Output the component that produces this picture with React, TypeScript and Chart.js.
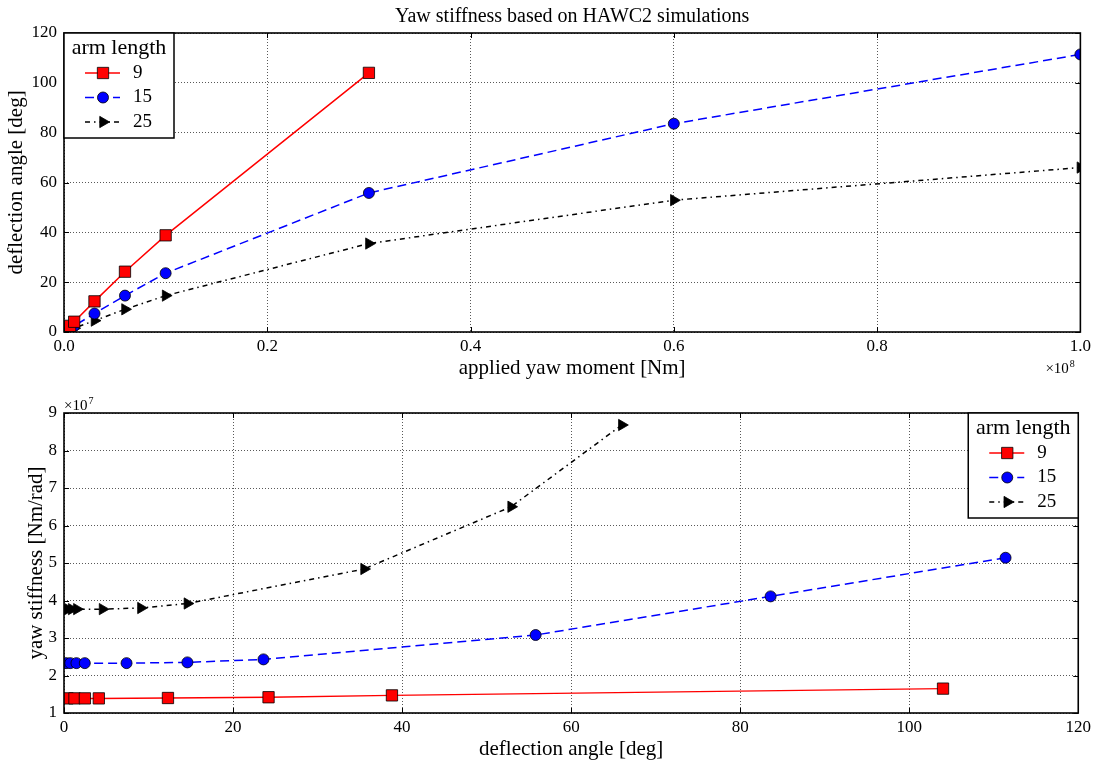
import React, { useEffect, useRef } from 'react';
import { Chart, registerables } from 'chart.js';

Chart.register(...registerables);

// ---------- data ----------
const armLengths = ['9', '15', '25'];

// applied yaw moment [Nm]
const moments9 = [1e5, 3e5, 6e5, 1e6, 3e6, 6e6, 1e7, 3e7];
const moments15 = [1e5, 3e5, 6e5, 1e6, 3e6, 6e6, 1e7, 3e7, 6e7, 1e8];
const moments25 = [1e5, 3e5, 6e5, 1e6, 3e6, 6e6, 1e7, 3e7, 6e7, 1e8];

// deflection angle [deg]
const deflection9 = [0.41, 1.24, 2.47, 4.12, 12.3, 24.2, 38.8, 104.0];
const deflection15 = [0.25, 0.74, 1.47, 2.46, 7.4, 14.6, 23.6, 55.8, 83.6, 111.4];
const deflection25 = [0.15, 0.46, 0.91, 1.52, 4.56, 9.1, 14.6, 35.5, 52.9, 66.0];

// yaw stiffness [Nm/rad]
const stiffness9 = [1.39e7, 1.39e7, 1.39e7, 1.39e7, 1.40e7, 1.42e7, 1.47e7, 1.65e7];
const stiffness15 = [2.33e7, 2.33e7, 2.33e7, 2.33e7, 2.33e7, 2.35e7, 2.43e7, 3.08e7, 4.11e7, 5.14e7];
const stiffness25 = [3.77e7, 3.77e7, 3.77e7, 3.77e7, 3.77e7, 3.80e7, 3.92e7, 4.84e7, 6.50e7, 8.68e7];

const titleText = 'Yaw stiffness based on HAWC2 simulations';
const legendTitle = 'arm length';
const topXLabel = 'applied yaw moment [Nm]';
const topYLabel = 'deflection angle [deg]';
const bottomXLabel = 'deflection angle [deg]';
const bottomYLabel = 'yaw stiffness [Nm/rad]';

// ---------- styles ----------
const FONT = '"Liberation Serif", "Times New Roman", serif';
const styles = [
  { color: '#ff0000', dash: [] as number[], pointStyle: 'rect', radius: 8, rotation: 0 },
  { color: '#0000ff', dash: [9, 5], pointStyle: 'circle', radius: 5.5, rotation: 0 },
  { color: '#000000', dash: [5, 4, 1.5, 4], pointStyle: 'triangle', radius: 6.5, rotation: 90 },
];

function makeDatasets(xs: number[][], ys: number[][]) {
  return armLengths.map((label, i) => ({
    label,
    data: xs[i].map((x, j) => ({ x, y: ys[i][j] })),
    borderColor: styles[i].color,
    backgroundColor: styles[i].color,
    borderWidth: 1.5,
    borderDash: styles[i].dash,
    pointStyle: styles[i].pointStyle,
    pointRadius: styles[i].radius,
    pointRotation: styles[i].rotation,
    pointBackgroundColor: styles[i].color,
    pointBorderColor: '#000',
    pointBorderWidth: 0.8,
    tension: 0,
    fill: false,
  }));
}

function drawMarker(ctx: CanvasRenderingContext2D, style: string, x: number, y: number, r: number, rotation: number) {
  const rad = (rotation * Math.PI) / 180;
  ctx.beginPath();
  if (style === 'rect') {
    const s = Math.SQRT1_2 * r;
    ctx.rect(x - s, y - s, 2 * s, 2 * s);
  } else if (style === 'circle') {
    ctx.arc(x, y, r, 0, Math.PI * 2);
  } else {
    let a = rad;
    ctx.moveTo(x + Math.sin(a) * r, y - Math.cos(a) * r);
    a += (2 * Math.PI) / 3;
    ctx.lineTo(x + Math.sin(a) * r, y - Math.cos(a) * r);
    a += (2 * Math.PI) / 3;
    ctx.lineTo(x + Math.sin(a) * r, y - Math.cos(a) * r);
    ctx.closePath();
  }
  ctx.fill();
  ctx.stroke();
}

const framePlugin = {
  id: 'mplFrame',
  afterDatasetsDraw(chart: any) {
    const { ctx, chartArea: a, scales } = chart;
    ctx.save();
    ctx.strokeStyle = '#000';
    ctx.lineWidth = 1;
    ctx.setLineDash([]);
    const xs = scales.x;
    const ys = scales.y;
    ctx.beginPath();
    xs.ticks.forEach((t: any) => {
      const px = Math.round(xs.getPixelForValue(t.value)) + 0.5;
      ctx.moveTo(px, a.bottom);
      ctx.lineTo(px, a.bottom - 5);
      ctx.moveTo(px, a.top);
      ctx.lineTo(px, a.top + 5);
    });
    ys.ticks.forEach((t: any) => {
      const py = Math.round(ys.getPixelForValue(t.value)) + 0.5;
      ctx.moveTo(a.left, py);
      ctx.lineTo(a.left + 5, py);
      ctx.moveTo(a.right, py);
      ctx.lineTo(a.right - 5, py);
    });
    ctx.stroke();
    ctx.lineWidth = 1.6;
    ctx.strokeRect(a.left, a.top, a.right - a.left, a.bottom - a.top);
    ctx.restore();
  },
};

const legendPlugin = {
  id: 'mplLegend',
  afterDraw(chart: any, _args: any, opts: any) {
    const { ctx, chartArea: a } = chart;
    const w = 110;
    const h = 105;
    const left = opts.corner === 'tl' ? a.left : a.right - w;
    const top = a.top;
    ctx.save();
    ctx.fillStyle = '#fff';
    ctx.fillRect(left, top, w, h);
    ctx.lineWidth = 1.5;
    ctx.strokeStyle = '#000';
    ctx.setLineDash([]);
    ctx.strokeRect(left, top, w, h);
    ctx.fillStyle = '#000';
    ctx.font = `22px ${FONT}`;
    ctx.textAlign = 'center';
    ctx.textBaseline = 'middle';
    ctx.fillText(legendTitle, left + w / 2, top + 15);
    chart.data.datasets.forEach((ds: any, i: number) => {
      const y = top + 40 + i * 24.5;
      ctx.strokeStyle = ds.borderColor;
      ctx.lineWidth = ds.borderWidth;
      ctx.setLineDash(ds.borderDash || []);
      ctx.beginPath();
      ctx.moveTo(left + 21, y);
      ctx.lineTo(left + 56, y);
      ctx.stroke();
      ctx.setLineDash([]);
      ctx.fillStyle = ds.pointBackgroundColor;
      ctx.strokeStyle = '#000';
      ctx.lineWidth = ds.pointBorderWidth;
      drawMarker(ctx, ds.pointStyle, left + 39, y, ds.pointRadius, ds.pointRotation);
      ctx.fillStyle = '#000';
      ctx.font = `19px ${FONT}`;
      ctx.textAlign = 'left';
      ctx.fillText(ds.label, left + 69, y);
    });
    ctx.restore();
  },
};

const textPlugin = {
  id: 'mplText',
  afterDraw(chart: any, _args: any, opts: any) {
    const { ctx, chartArea: a } = chart;
    ctx.save();
    ctx.fillStyle = '#000';
    if (opts.title) {
      ctx.font = `20px ${FONT}`;
      ctx.textAlign = 'center';
      ctx.textBaseline = 'middle';
      ctx.fillText(opts.title, (a.left + a.right) / 2, a.top - 16);
    }
    if (opts.exponent) {
      const { exp, where } = opts.exponent;
      let x = 0;
      let y = 0;
      if (where === 'bottomright') {
        x = a.right - 35;
        y = a.bottom + 36;
      } else {
        x = a.left;
        y = a.top - 8;
      }
      ctx.textAlign = 'left';
      ctx.textBaseline = 'alphabetic';
      ctx.font = `15px ${FONT}`;
      const base = '\u00d710';
      ctx.fillText(base, x, y + 5);
      const bw = ctx.measureText(base).width;
      ctx.font = `10px ${FONT}`;
      ctx.fillText(exp, x + bw + 1, y - 1);
    }
    ctx.restore();
  },
};

function axisCommon(titleText: string, titlePadding: any) {
  return {
    type: 'linear' as const,
    grid: {
      color: 'rgba(0,0,0,0.65)',
      lineWidth: 1,
      drawTicks: false,
    },
    border: { display: false, dash: [1, 2] },
    title: {
      display: true,
      text: titleText,
      color: '#000',
      font: { family: FONT, size: 21 },
      padding: titlePadding,
    },
  };
}

const tickFont = { family: FONT, size: 17 };

function ChartCanvas({ config, height }: { config: any; height: number }) {
  const ref = useRef<HTMLCanvasElement | null>(null);
  useEffect(() => {
    if (!ref.current) return;
    const chart = new Chart(ref.current, config);
    return () => chart.destroy();
  }, [config]);
  return <canvas ref={ref} width={1095} height={height} style={{ display: 'block', width: 1095, height }} />;
}

const topConfig = {
  type: 'line',
  data: { datasets: makeDatasets([moments9, moments15, moments25], [deflection9, deflection15, deflection25]) },
  options: {
    responsive: false,
    animation: false,
    devicePixelRatio: 1,
    layout: { padding: { left: 0, top: 33, right: 14, bottom: 0 } },
    plugins: {
      legend: { display: false },
      tooltip: { enabled: false },
      mplLegend: { corner: 'tl' },
      mplText: { title: titleText, exponent: { exp: '8', where: 'bottomright' } },
    },
    scales: {
      x: {
        ...axisCommon(topXLabel, { top: 0, bottom: 1 }),
        min: 0,
        max: 1e8,
        afterFit: (s: any) => { s.height = 50; },
        ticks: {
          stepSize: 2e7,
          padding: 4,
          color: '#000',
          font: tickFont,
          maxRotation: 0,
          callback: (v: any) => (Number(v) / 1e8).toFixed(1),
        },
      },
      y: {
        ...axisCommon(topYLabel, { top: 4, bottom: 0 }),
        min: 0,
        max: 120,
        afterFit: (s: any) => { s.width = 64; },
        ticks: { stepSize: 20, padding: 7, color: '#000', font: tickFont },
      },
    },
  },
  plugins: [framePlugin, legendPlugin, textPlugin],
};

const bottomConfig = {
  type: 'line',
  data: { datasets: makeDatasets([deflection9, deflection15, deflection25], [stiffness9, stiffness15, stiffness25]) },
  options: {
    responsive: false,
    animation: false,
    devicePixelRatio: 1,
    layout: { padding: { left: 0, top: 31, right: 14, bottom: 0 } },
    plugins: {
      legend: { display: false },
      tooltip: { enabled: false },
      mplLegend: { corner: 'tr' },
      mplText: { exponent: { exp: '7', where: 'topleft' } },
    },
    scales: {
      x: {
        ...axisCommon(bottomXLabel, { top: 0, bottom: 3 }),
        min: 0,
        max: 120,
        afterFit: (s: any) => { s.height = 52; },
        ticks: { stepSize: 20, padding: 4, color: '#000', font: tickFont, maxRotation: 0 },
      },
      y: {
        ...axisCommon(bottomYLabel, { top: 24, bottom: 0 }),
        min: 1e7,
        max: 9e7,
        afterFit: (s: any) => { s.width = 64; },
        ticks: {
          stepSize: 1e7,
          padding: 7,
          color: '#000',
          font: tickFont,
          callback: (v: any) => String(Math.round(Number(v) / 1e7)),
        },
      },
    },
  },
  plugins: [framePlugin, legendPlugin, textPlugin],
};

export default function App() {
  return (
    <div style={{ position: 'absolute', left: 0, top: 0, width: 1095, height: 765, background: '#fff' }}>
      <div style={{ position: 'absolute', left: 0, top: 0 }}>
        <ChartCanvas config={topConfig} height={382} />
      </div>
      <div style={{ position: 'absolute', left: 0, top: 382 }}>
        <ChartCanvas config={bottomConfig} height={383} />
      </div>
    </div>
  );
}
